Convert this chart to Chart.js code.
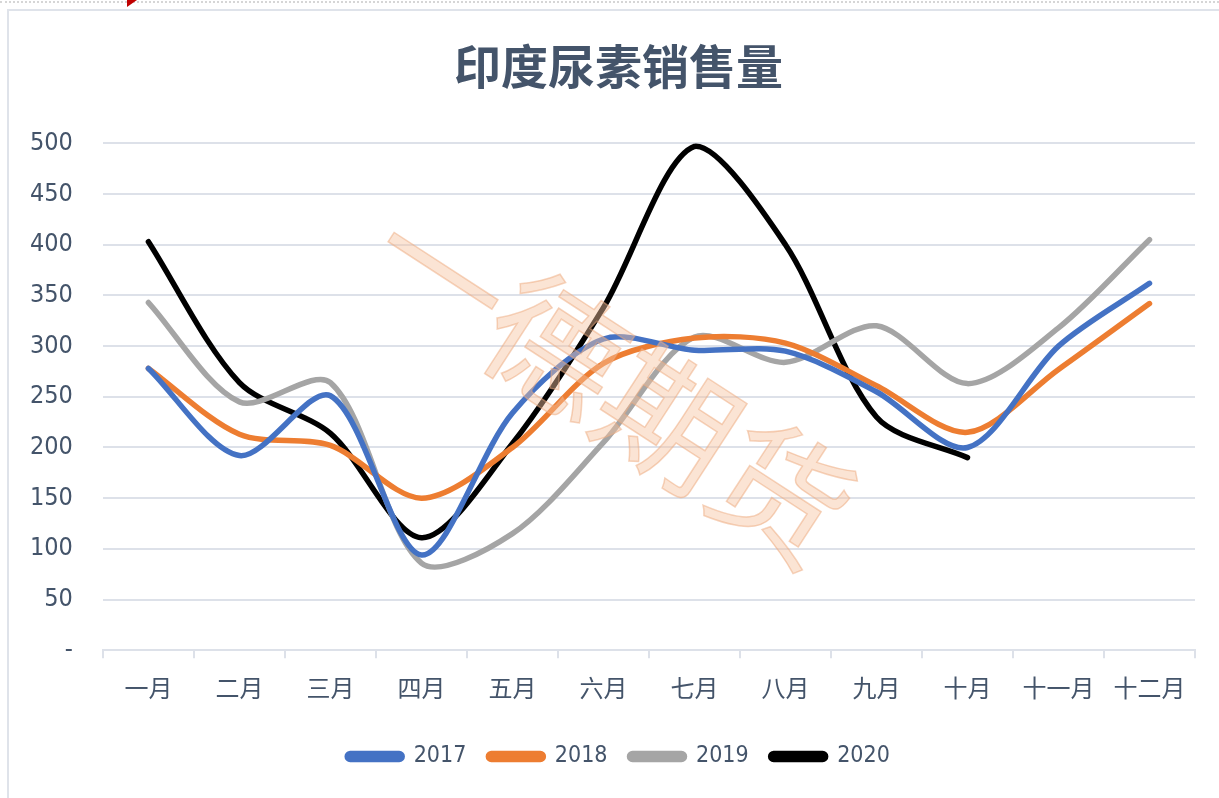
<!DOCTYPE html>
<html>
<head>
<meta charset="utf-8">
<script src="https://cdn.jsdelivr.net/npm/chart.js@4/dist/chart.umd.min.js"></script>
<style>
  html, body { margin: 0; padding: 0; background: #fff; overflow: hidden; }
  #frame { position: absolute; left: 7px; top: 9px; width: 1400px; height: 1000px;
           border-left: 2px solid #dfe3ea; border-top: 2px solid #dfe3ea; }
  #dots { position: absolute; left: 0; top: 1px; width: 1219px; border-top: 2px dotted #d6d6d6; }
  #flag { position: absolute; left: 127px; top: 0; width: 0; height: 0;
          border-left: 10px solid #c00000; border-bottom: 7px solid transparent; }
  #wrap { position: absolute; left: 0; top: 0; width: 1219px; height: 798px; }
</style>
</head>
<body>
<div id="dots"></div>
<div id="frame"></div>
<div id="flag"></div>
<div id="wrap"><canvas id="chart" width="1219" height="798"></canvas></div>
<script>
const months = ['一月', '二月', '三月', '四月', '五月', '六月', '七月', '八月', '九月', '十月', '十一月', '十二月'];
const sales2017 = [278, 192, 251, 94, 234, 307, 296, 295, 255, 200, 300, 362];
const sales2018 = [278, 213, 202, 150, 200, 283, 308, 303, 261, 215, 277, 342];
const sales2019 = [343, 245, 264, 86, 115, 205, 309, 284, 320, 263, 318, 405];
const sales2020 = [403, 264, 214, 111, 204, 338, 497, 400, 230, 190, null, null];
const seriesNames = ['2017', '2018', '2019', '2020'];
const seriesColors = ['#4472c4', '#ed7d31', '#a5a5a5', '#000000'];

const fontFamily = '"Liberation Sans Narrow", "DejaVu Sans Condensed", "Noto Sans CJK SC", sans-serif';
const textColor = '#44546a';
const gridColor = '#dde1e9';

// watermark drawn over the lines, semi transparent
const watermark = {
    id: 'watermark',
    afterDatasetsDraw(chart) {
        const ctx = chart.ctx;
        ctx.save();
        ctx.translate(612, 382);
        ctx.rotate(33 * Math.PI / 180);
        ctx.font = '135px "Noto Sans CJK SC", serif';
        ctx.textAlign = 'center';
        ctx.textBaseline = 'middle';
        ctx.fillStyle = 'rgba(246, 196, 160, 0.45)';
        ctx.strokeStyle = 'rgba(238, 170, 125, 0.5)';
        ctx.lineWidth = 1.5;
        ctx.fillText('一德期货', 0, 0);
        ctx.strokeText('一德期货', 0, 0);
        ctx.restore();
    }
};

// title and legend are centred over the plot, not the whole canvas
const centreOnPlot = {
    id: 'centreOnPlot',
    afterLayout(chart) {
        const shift = 21;
        [chart.titleBlock, chart.legend].forEach(box => {
            if (box) { box.left += shift; box.right += shift; }
        });
    }
};

const allSeries = [sales2017, sales2018, sales2019, sales2020];
const datasets = allSeries.map((data, i) => ({
    label: seriesNames[i],
    data: data,
    borderColor: seriesColors[i],
    backgroundColor: seriesColors[i],
    borderWidth: 5.5,
    borderCapStyle: 'round',
    borderJoinStyle: 'round',
    pointRadius: 0,
    tension: 0.3,
    fill: false,
    clip: false
}));

new Chart(document.getElementById('chart'), {
    type: 'line',
    data: { labels: months, datasets: datasets },
    options: {
        responsive: false,
        animation: false,
        layout: { padding: { left: 0, right: 24, top: 0, bottom: 20 } },
        plugins: {
            title: {
                display: true,
                text: '印度尿素销售量',
                color: textColor,
                font: { family: '"Noto Sans CJK SC", sans-serif', size: 47, weight: 'bold' },
                padding: { top: 38, bottom: 49 }
            },
            legend: {
                position: 'bottom',
                labels: {
                    color: textColor,
                    font: { family: fontFamily, size: 23 },
                    boxWidth: 55,
                    boxHeight: 6,
                    useBorderRadius: true,
                    borderRadius: 3,
                    padding: 22
                }
            },
            tooltip: { enabled: false }
        },
        scales: {
            x: {
                offset: true,
                grid: { offset: true, drawOnChartArea: false, drawTicks: true, tickLength: 8, color: gridColor, lineWidth: 2 },
                border: { display: true, color: gridColor, width: 2 },
                ticks: { color: textColor, font: { family: fontFamily, size: 24 }, padding: 18, maxRotation: 0 }
            },
            y: {
                min: 0,
                max: 500,
                grid: { color: gridColor, lineWidth: 2, drawTicks: false },
                border: { display: false },
                ticks: {
                    stepSize: 50,
                    color: textColor,
                    font: { family: fontFamily, size: 25 },
                    padding: 30,
                    callback: v => v === 0 ? '-' : v
                }
            }
        }
    },
    plugins: [watermark, centreOnPlot]
});
</script>
</body>
</html>
